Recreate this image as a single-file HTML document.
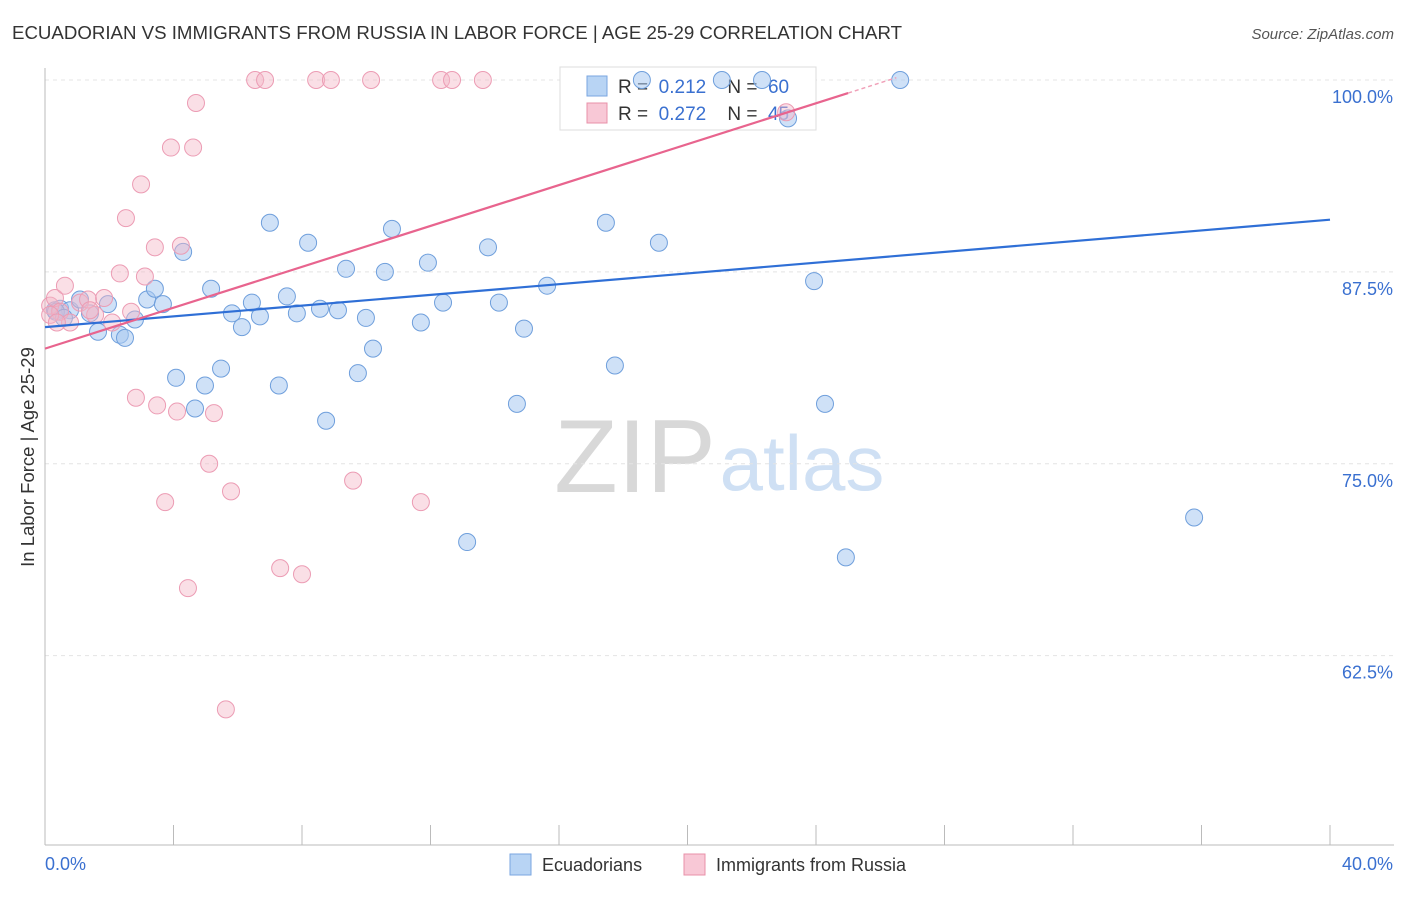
<!DOCTYPE html>
<html><head><meta charset="utf-8"><style>
body{margin:0;background:#fff;font-family:"Liberation Sans",sans-serif}
svg text{font-family:"Liberation Sans",sans-serif}
</style></head><body>
<svg id="chart" width="1406" height="892">
<text x="12" y="39" font-size="18" textLength="890" lengthAdjust="spacingAndGlyphs" fill="#333">ECUADORIAN VS IMMIGRANTS FROM RUSSIA IN LABOR FORCE | AGE 25-29 CORRELATION CHART</text>
<text x="1394" y="39" font-size="15" fill="#555" font-style="italic" text-anchor="end">Source: ZipAtlas.com</text>
<g>
<text x="635" y="492" font-size="104" fill="#d8d8d8" font-family="Liberation Serif" text-anchor="middle">ZIP</text>
<text x="802" y="490" font-size="78" fill="#cfe0f4" text-anchor="middle">atlas</text>
</g>
<text transform="translate(34,457) rotate(-90)" font-size="18.5" fill="#333" text-anchor="middle">In Labor Force | Age 25-29</text>
<g id="grid"></g><g id="axes"></g>
<g>
<rect x="560" y="67" width="256" height="63" fill="#fff" stroke="#ddd"/>
<rect x="587" y="76" width="20" height="20" fill="#b8d4f4" stroke="#7aa6e0"/>
<text x="618" y="93" font-size="19" fill="#333" xml:space="preserve">R =  <tspan fill="#3a70d0">0.212</tspan>    N =  <tspan fill="#3a70d0">60</tspan></text>
<rect x="587" y="103" width="20" height="20" fill="#f8c8d6" stroke="#e890a8"/>
<text x="618" y="120" font-size="19" fill="#333" xml:space="preserve">R =  <tspan fill="#3a70d0">0.272</tspan>    N =  <tspan fill="#3a70d0">45</tspan></text>
</g>
<g id="marks"></g>
<g>
<rect x="510" y="854" width="21" height="21" fill="#b8d4f4" stroke="#7aa6e0"/>
<text x="542" y="871" font-size="18" fill="#333">Ecuadorians</text>
<rect x="684" y="854" width="21" height="21" fill="#f8c8d6" stroke="#e890a8"/>
<text x="716" y="871" font-size="18" fill="#333">Immigrants from Russia</text>
</g>
</svg>
<script>
const blueX=[0.31,0.47,0.78,1.09,1.40,1.65,1.96,2.33,2.49,2.80,3.18,3.42,3.67,4.08,4.30,4.67,4.98,5.17,5.48,5.82,6.13,6.44,6.69,7.00,7.28,7.53,7.84,8.19,8.56,8.75,9.12,9.37,9.74,9.99,10.21,10.58,10.80,11.70,11.92,12.39,13.14,13.79,14.13,14.69,14.91,15.63,17.46,17.74,18.58,19.11,21.07,22.32,23.13,23.94,24.28,24.93,26.62,35.77,0.34,0.59];
const blueY=[85.0,85.1,85.0,85.7,84.8,83.6,85.4,83.4,83.2,84.4,85.7,86.4,85.4,80.6,88.8,78.6,80.1,86.4,81.2,84.8,83.9,85.5,84.6,90.7,80.1,85.9,84.8,89.4,85.1,77.8,85.0,87.7,80.9,84.5,82.5,87.5,90.3,84.2,88.1,85.5,69.9,89.1,85.5,78.9,83.8,86.6,90.7,81.4,100,89.4,100,100,97.5,86.9,78.9,68.9,100,71.5,84.9,84.5];
const pinkX=[0.16,0.31,0.47,0.62,0.78,1.09,1.34,1.56,1.84,2.09,2.33,2.52,2.68,2.83,2.99,3.11,3.42,3.49,3.74,3.92,4.11,4.23,4.45,4.61,4.70,5.11,5.26,5.63,5.79,6.54,6.85,7.32,8.00,8.44,8.90,9.59,10.15,11.70,12.33,12.67,13.63,23.07,0.16,0.37,1.40];
const pinkY=[85.3,85.8,84.9,86.6,84.2,85.5,85.7,84.7,85.8,84.2,87.4,91.0,84.9,79.3,93.2,87.2,89.1,78.8,72.5,95.6,78.4,89.2,66.9,95.6,98.5,75.0,78.3,59.0,73.2,100,100,68.2,67.8,100,100,73.9,100,72.5,100,100,100,97.9,84.7,84.2,85.0];
const blueTrend=[83.9,90.9];
const pinkTrend=[82.5,99.15];
const yTicks=[100,87.5,75,62.5];
const xTickCount=11;
const X=v=>45+v/40*1285, Y=v=>80+(100-v)*15.35;
const NS="http://www.w3.org/2000/svg";
function mk(p,t,a){const e=document.createElementNS(NS,t);for(const k in a)e.setAttribute(k,a[k]);p.appendChild(e);return e;}
const grid=document.getElementById('grid'),axes=document.getElementById('axes'),marks=document.getElementById('marks');
yTicks.forEach(v=>{
 const l=mk(grid,'line',{x1:45,x2:1394,y1:Y(v),y2:Y(v),stroke:'#e4e4e4','stroke-dasharray':'4,4'});
 
 
 const t=mk(grid,'text',{x:1393,y:Y(v)+23,'font-size':18,fill:'#3a70d0','text-anchor':'end'});t.textContent=v.toFixed(1)+'%';
 
 
});
mk(axes,'line',{x1:45,x2:1394,y1:845,y2:845,stroke:'#bbb'});
mk(axes,'line',{x1:45,x2:45,y1:68,y2:845,stroke:'#bbb'});
for(let i=0;i<xTickCount;i++){const x=X(i*4);const t=mk(axes,'line',{x1:x,x2:x,y1:825,y2:845,stroke:'#bbb'});
 
 }
let t=mk(axes,'text',{x:45,y:870,'font-size':18,fill:'#3a70d0'});t.textContent='0.0%';


t=mk(axes,'text',{x:1393,y:870,'font-size':18,fill:'#3a70d0','text-anchor':'end'});t.textContent='40.0%';


blueX.forEach((v,i)=>{const c=mk(marks,'circle',{cx:X(v),cy:Y(blueY[i]),r:8.5,fill:'rgba(168,200,240,0.55)',stroke:'#6f9fdc','stroke-width':1});
 
 });
pinkX.forEach((v,i)=>{const c=mk(marks,'circle',{cx:X(v),cy:Y(pinkY[i]),r:8.5,fill:'rgba(245,184,200,0.45)',stroke:'#ec9cb4','stroke-width':1});
 
 });
let ln=mk(marks,'line',{x1:X(0),y1:Y(blueTrend[0]),x2:X(40),y2:Y(blueTrend[1]),stroke:'#2f6fd6','stroke-width':2.2});


const ps=(pinkTrend[1]-pinkTrend[0])/25;
ln=mk(marks,'line',{x1:X(0),y1:Y(pinkTrend[0]),x2:X(25),y2:Y(pinkTrend[1]),stroke:'#e8648e','stroke-width':2.2});


ln=mk(marks,'line',{x1:X(25),y1:Y(pinkTrend[1]),x2:X(26.5),y2:Y(pinkTrend[0]+ps*26.5),stroke:'#f0a0b8','stroke-width':1.5,'stroke-dasharray':'4,3'});


</script>
</body></html>
